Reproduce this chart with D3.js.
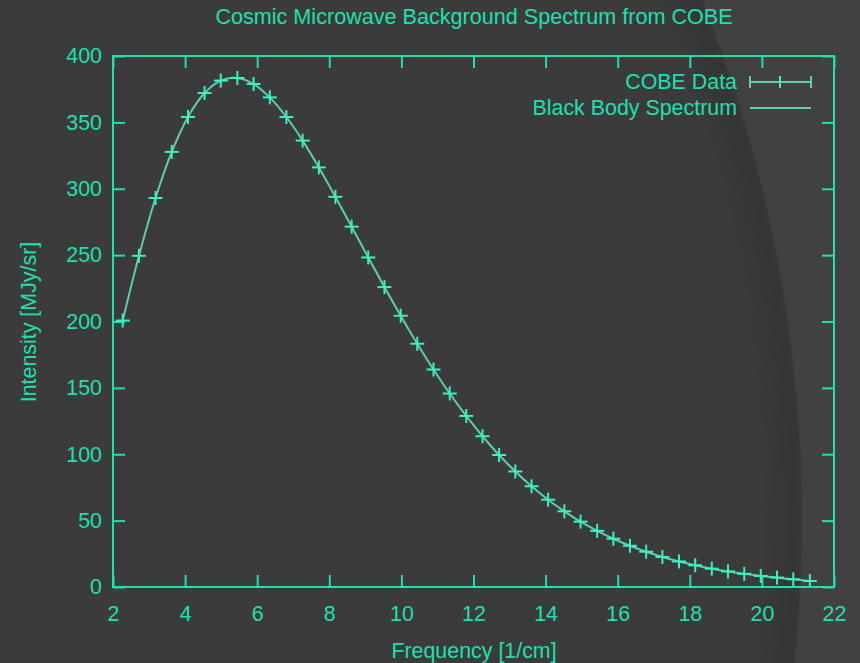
<!DOCTYPE html>
<html>
<head>
<meta charset="utf-8">
<script src="https://cdn.jsdelivr.net/npm/d3@7"></script>
<style>
  html, body { margin: 0; padding: 0; background: #3b3b3b; }
  svg { display: block; }
</style>
</head>
<body>
<div id="chart"></div>
<script>
// COBE FIRAS measurements, frequency in 1/cm, intensity in MJy/sr
const freq = [2.27, 2.72, 3.18, 3.63, 4.08, 4.54, 4.99, 5.45, 5.90, 6.35, 6.81, 7.26, 7.71,
   8.17, 8.62, 9.08, 9.53, 9.98, 10.44, 10.89, 11.34, 11.80, 12.25, 12.71, 13.16, 13.61,
   14.07, 14.52, 14.97, 15.43, 15.88, 16.34, 16.79, 17.24, 17.70, 18.15, 18.61, 19.06,
   19.51, 19.97, 20.42, 20.87, 21.33]
const intensity = [200.72, 249.51, 293.02, 327.77, 354.08, 372.08, 381.49, 383.48, 378.90,
   368.83, 354.06, 336.28, 316.08, 293.92, 271.43, 248.24, 225.94, 204.33, 183.26, 163.83,
   145.75, 128.84, 113.57, 99.45, 87.04, 75.88, 65.77, 57.01, 49.22, 42.27, 36.35, 31.06,
   26.58, 22.64, 19.26, 16.39, 13.81, 11.72, 9.92, 8.36, 7.09, 5.80, 4.52]
// black body curve read along the same frequencies
const bbody = intensity.slice()

const xTicks = [2, 4, 6, 8, 10, 12, 14, 16, 18, 20, 22]
const yTicks = [0, 50, 100, 150, 200, 250, 300, 350, 400]
const legendNames = ["COBE Data", "Black Body Spectrum"]

width = 860
height = 663
margin = ({ top: 56, right: 26, bottom: 76, left: 113 })
const teal = "#1de0b0"
const curveColor = "#5ccfa8"
const markColor = "#3cf0c4"
const font = "'Liberation Sans', Arial, sans-serif"
const fs = 21.4

const data = freq.map((f, i) => ({ f: f, v: intensity[i], b: bbody[i] }))

x = d3.scaleLinear().domain([2, 22]).range([margin.left, width - margin.right])
y = d3.scaleLinear().domain([0, 400]).range([height - margin.bottom, margin.top])

const svg = d3.create("svg")
   .attr("width", width)
   .attr("height", height)
   .attr("viewBox", [0, 0, width, height])
   .style("font-family", font)

// background with the big curved panel
const defs = svg.append("defs")
const grad = defs.append("radialGradient")
   .attr("id", "shade")
   .attr("gradientUnits", "userSpaceOnUse")
   .attr("cx", -600).attr("cy", 520).attr("r", 1402)
grad.append("stop").attr("offset", 0.97).attr("stop-color", "#3b3b3b")
grad.append("stop").attr("offset", 0.995).attr("stop-color", "#353535")
grad.append("stop").attr("offset", 1).attr("stop-color", "#373737")

svg.append("rect")
   .attr("width", width).attr("height", height)
   .attr("fill", "#414141")
svg.append("circle")
   .attr("cx", -600).attr("cy", 520).attr("r", 1402)
   .attr("fill", "url(#shade)")

// axes, ticks point inward on all four sides
xAxis = g => g
   .attr("transform", `translate(0,${y(0)})`)
   .call(d3.axisBottom(x).tickValues(xTicks).tickSize(-12).tickPadding(19))
   .call(g => g.select(".domain").remove())
yAxis = g => g
   .attr("transform", `translate(${x(2)},0)`)
   .call(d3.axisLeft(y).tickValues(yTicks).tickSize(-12).tickPadding(11))
   .call(g => g.select(".domain").remove())
xTop = g => g
   .attr("transform", `translate(0,${y(400)})`)
   .call(d3.axisTop(x).tickValues(xTicks).tickSize(-12).tickFormat(""))
   .call(g => g.select(".domain").remove())
yRight = g => g
   .attr("transform", `translate(${x(22)},0)`)
   .call(d3.axisRight(y).tickValues(yTicks).tickSize(-12).tickFormat(""))
   .call(g => g.select(".domain").remove())

const axes = svg.append("g")
axes.append("g").call(xAxis)
axes.append("g").call(yAxis)
axes.append("g").call(xTop)
axes.append("g").call(yRight)
axes.selectAll(".tick line").attr("stroke", teal).attr("stroke-width", 2)
axes.selectAll(".tick text")
   .attr("fill", teal)
   .attr("font-size", fs)
   .attr("font-family", font)

// the black body line
const line = d3.line()
   .x(d => x(d.f))
   .y(d => y(d.b))
   .curve(d3.curveCatmullRom)

svg.append("path")
   .datum(data)
   .attr("fill", "none")
   .attr("stroke", curveColor)
   .attr("stroke-width", 2)
   .attr("d", line)

// data points as crosses
const pts = svg.append("g")
   .attr("stroke", markColor)
   .attr("stroke-width", 2)
   .selectAll("g")
   .data(data)
   .join("g")
   .attr("transform", d => `translate(${x(d.f)},${y(d.v)})`)
pts.append("line").attr("x1", -7).attr("x2", 7)
pts.append("line").attr("y1", -7).attr("y2", 7)

// frame
svg.append("rect")
   .attr("x", x(2)).attr("y", y(400))
   .attr("width", x(22) - x(2)).attr("height", y(0) - y(400))
   .attr("fill", "none")
   .attr("stroke", teal)
   .attr("stroke-width", 2)

// legend
const legend = svg.append("g").attr("font-size", fs).attr("fill", teal)
legend.selectAll("text")
   .data(legendNames)
   .join("text")
   .attr("x", 737)
   .attr("y", (d, i) => 89 + i * 26)
   .attr("text-anchor", "end")
   .text(d => d)

const l1 = legend.append("g").attr("stroke", markColor).attr("stroke-width", 2)
l1.append("line").attr("x1", 750).attr("x2", 811).attr("y1", 82).attr("y2", 82).attr("stroke", curveColor)
l1.append("line").attr("x1", 750).attr("x2", 750).attr("y1", 76).attr("y2", 88).attr("stroke", curveColor)
l1.append("line").attr("x1", 811).attr("x2", 811).attr("y1", 76).attr("y2", 88).attr("stroke", curveColor)
l1.append("line").attr("x1", 780).attr("x2", 780).attr("y1", 76).attr("y2", 88)
legend.append("line")
   .attr("x1", 750).attr("x2", 811).attr("y1", 108).attr("y2", 108)
   .attr("stroke", curveColor).attr("stroke-width", 2)

// titles
svg.append("text")
   .attr("x", 474).attr("y", 24)
   .attr("text-anchor", "middle")
   .attr("font-size", 21.6)
   .attr("fill", teal)
   .text("Cosmic Microwave Background Spectrum from COBE")

svg.append("text")
   .attr("x", 474).attr("y", 658)
   .attr("text-anchor", "middle")
   .attr("font-size", fs)
   .attr("fill", teal)
   .text("Frequency [1/cm]")

svg.append("text")
   .attr("transform", "translate(36,322) rotate(-90)")
   .attr("text-anchor", "middle")
   .attr("font-size", fs)
   .attr("fill", teal)
   .text("Intensity [MJy/sr]")

d3.select("#chart").node().append(svg.node())
</script>
</body>
</html>
